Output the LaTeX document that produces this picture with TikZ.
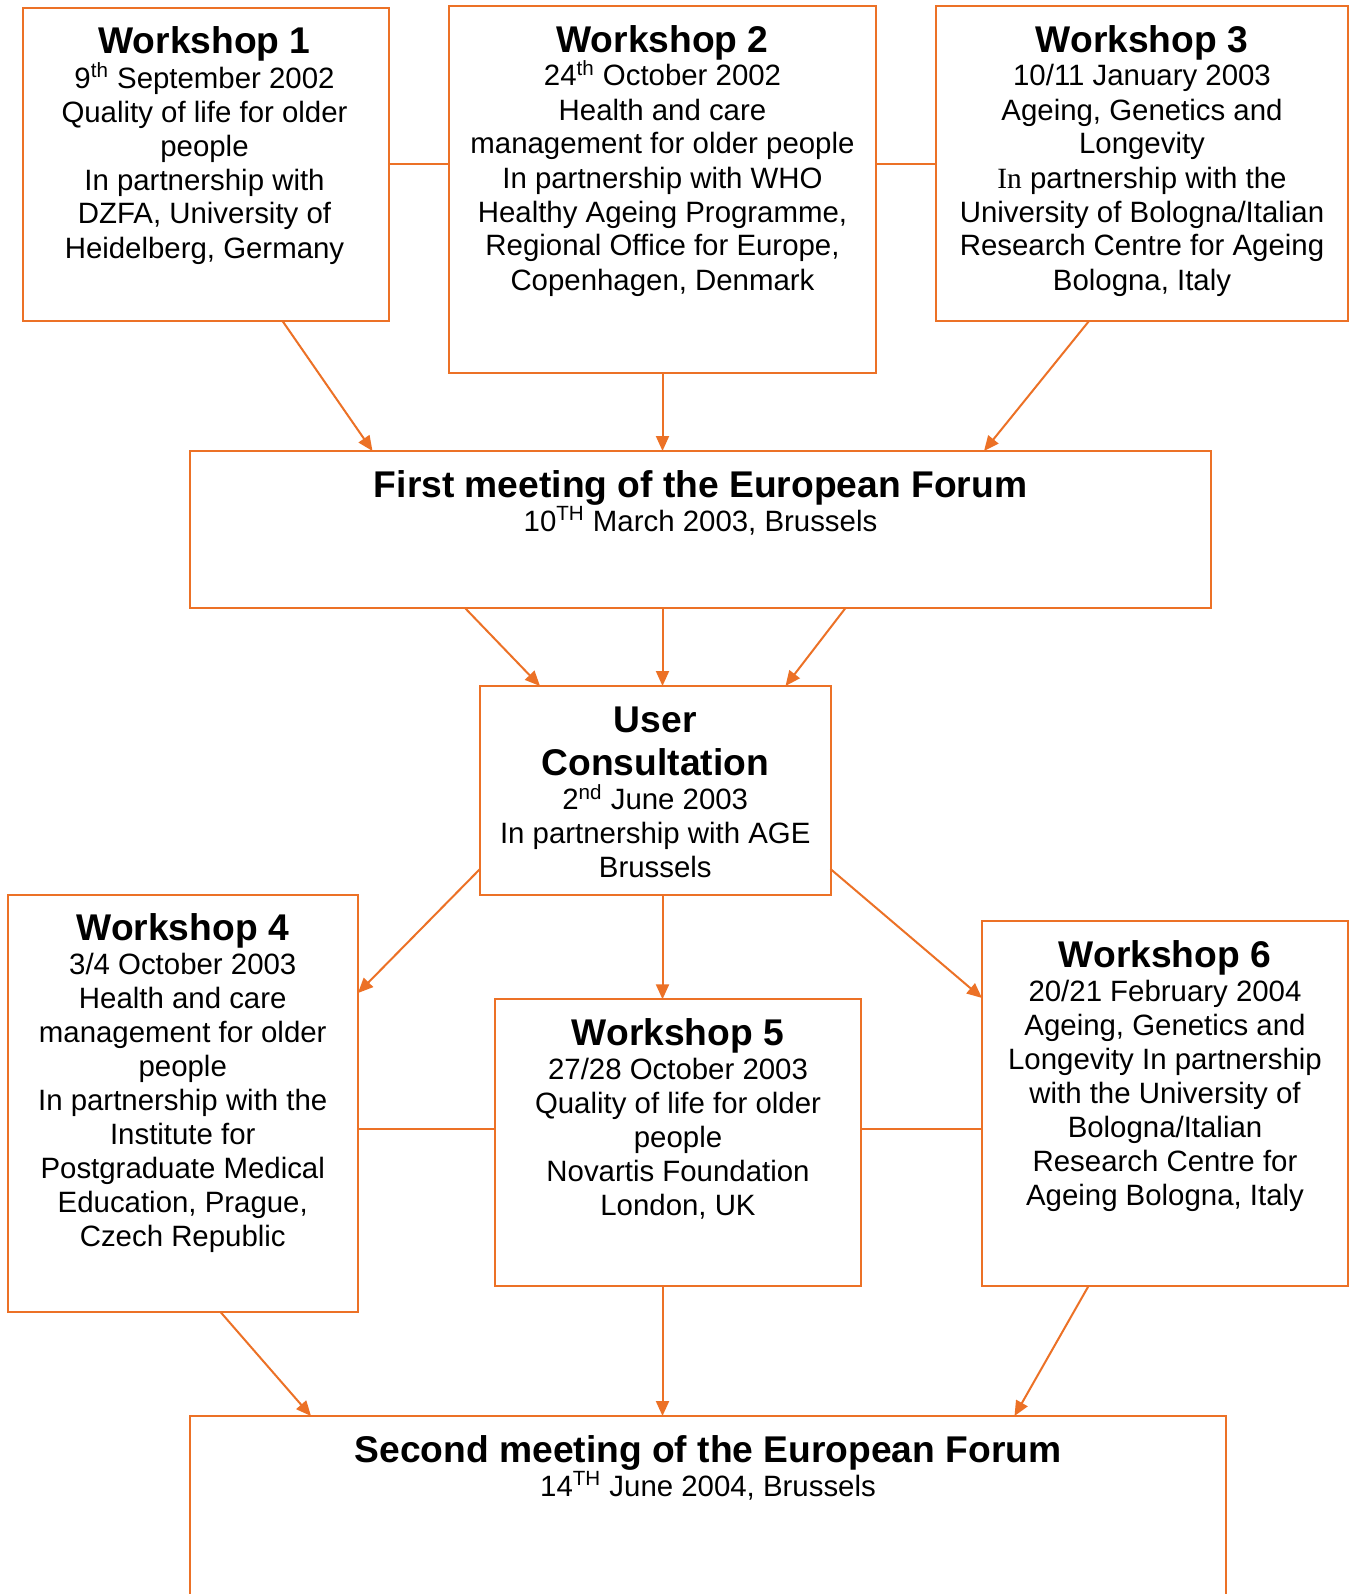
\documentclass[tikz,border=0pt]{standalone}
\usepackage{fontspec}
\setmainfont{Liberation Sans}
\newfontfamily\serifface{Liberation Serif}
\usetikzlibrary{arrows.meta,calc}
\definecolor{forumorange}{RGB}{236,113,38}
% bold heading line with a fixed-height strut so every box starts its text at the same depth
\newcommand\boxtitle[1]{{\fontsize{18.6}{22}\selectfont\bfseries\rule{0pt}{14pt}#1}}
\begin{document}
\begin{tikzpicture}[x=0.5pt,y=-0.5pt,
  box/.style={rectangle, draw=forumorange, line width=1pt, inner sep=0pt, outer sep=0pt},
  txt/.style={anchor=north, align=center, inner sep=0pt, outer sep=0pt,
              font=\fontsize{14.7}{17}\selectfont},
  link/.style={draw=forumorange, line width=1pt},
  arr/.style={link, -{Triangle[length=7.5pt,width=6.5pt]}},
]
\useasboundingbox (0,0) rectangle (1349,1594);
\fill[white] (0,0) rectangle (1349,1594);
\clip (0,0) rectangle (1349,1594);

% ---- boxes ----
\node[box, minimum width=183pt,   minimum height=156.5pt]  (w1) at (206,164.5) {};
\node[box, minimum width=213.5pt, minimum height=183.5pt]  (w2) at (662.5,189.5) {};
\node[box, minimum width=206pt,   minimum height=157.5pt]  (w3) at (1142,163.5) {};
\node[box, minimum width=510.5pt, minimum height=78.5pt]   (fm) at (700.5,529.5) {};
\node[box, minimum width=175.25pt,minimum height=104.3pt]  (uc) at (655.25,790.3) {};
\node[box, minimum width=175.25pt,minimum height=208.65pt] (w4) at (182.75,1103.35) {};
\node[box, minimum width=183pt,   minimum height=143.35pt] (w5) at (678,1142.65) {};
\node[box, minimum width=183pt,   minimum height=182.5pt]  (w6) at (1165,1103.5) {};
\node[box, minimum width=518pt,   minimum height=150pt]    (sm) at (708,1566) {};

% ---- texts ----
\node[txt] (w1t) at ($(w1.north)+(-1.5,18)$) {\boxtitle{Workshop 1}\\
  9\textsuperscript{th} September 2002\\ Quality of life for older\\ people\\
  In partnership with\\ DZFA, University of\\ Heidelberg, Germany};
\node[txt] (w2t) at ($(w2.north)+(0,18)$) {\boxtitle{Workshop 2}\\
  24\textsuperscript{th} October 2002\\ Health and care\\ management for older people\\
  In partnership with WHO\\ Healthy Ageing Programme,\\ Regional Office for Europe,\\
  Copenhagen, Denmark};
\node[txt] (w3t) at ($(w3.north)+(0,18)$) {\boxtitle{Workshop 3}\\
  10/11 January 2003\\ Ageing, Genetics and\\ Longevity\\
  {\serifface In} partnership with the\\ University of Bologna/Italian\\
  Research Centre for Ageing\\ Bologna, Italy};
\node[txt] (fmt) at ($(fm.north)+(0,18)$) {\boxtitle{First meeting of the European Forum}\\
  10\textsuperscript{TH} March 2003, Brussels};
\node[txt] (uct) at ($(uc.north)+(0,18)$) {\boxtitle{User}\\[4.8pt]\boxtitle{Consultation}\\
  2\textsuperscript{nd} June 2003\\ In partnership with AGE\\ Brussels};
\node[txt] (w4t) at ($(w4.north)+(0,18)$) {\boxtitle{Workshop 4}\\
  3/4 October 2003\\ Health and care\\ management for older\\ people\\
  In partnership with the\\ Institute for\\ Postgraduate Medical\\
  Education, Prague,\\ Czech Republic};
\node[txt] (w5t) at ($(w5.north)+(0,18)$) {\boxtitle{Workshop 5}\\
  27/28 October 2003\\ Quality of life for older\\ people\\
  Novartis Foundation\\ London, UK};
\node[txt] (w6t) at ($(w6.north)+(0,18)$) {\boxtitle{Workshop 6}\\
  20/21 February 2004\\ Ageing, Genetics and\\ Longevity In partnership\\
  with the University of\\ Bologna/Italian\\ Research Centre for\\
  Ageing Bologna, Italy};
\node[txt] (smt) at ($(sm.north)+(0,18)$) {\boxtitle{Second meeting of the European Forum}\\
  14\textsuperscript{TH} June 2004, Brussels};

% ---- plain links between neighbouring workshops ----
\coordinate (toprow) at (0,164);
\coordinate (midrow) at (0,1129);
\draw[link] (w1.east |- toprow) -- (w2.west |- toprow);
\draw[link] (w2.east |- toprow) -- (w3.west |- toprow);
\draw[link] (w4.east |- midrow) -- (w5.west |- midrow);
\draw[link] (w5.east |- midrow) -- (w6.west |- midrow);

% ---- arrows ----
\draw[arr] ($(w1.south west)+(259.5,0)$) -- ($(fm.north west)+(182.5,0)$);
\draw[arr] (w2.south) -- (w2.south |- fm.north);
\draw[arr] ($(w3.south west)+(153,0)$) -- ($(fm.north west)+(794,0)$);

\draw[arr] ($(fm.south west)+(275,0)$) -- ($(uc.north west)+(60,0)$);
\draw[arr] ($(fm.south west)+(472.5,0)$) -- ($(uc.north west)+(182.5,0)$);
\draw[arr] ($(fm.south west)+(655.5,0)$) -- ($(uc.north west)+(305.5,0)$);

\draw[arr] ($(uc.south west)+(0,-25.6)$) -- ($(w4.north east)+(0,98.3)$);
\draw[arr] ($(uc.south west)+(182.5,0)$) -- ($(w5.north west)+(167.5,0)$);
\draw[arr] ($(uc.south east)+(0,-25.6)$) -- ($(w6.north west)+(0,77)$);

\draw[arr] ($(w4.south west)+(213,0)$) -- ($(sm.north west)+(121,0)$);
\draw[arr] ($(w5.south west)+(167.5,0)$) -- ($(sm.north west)+(472.5,0)$);
\draw[arr] ($(w6.south west)+(106.5,0)$) -- ($(sm.north west)+(824.5,0)$);
\end{tikzpicture}
\end{document}
